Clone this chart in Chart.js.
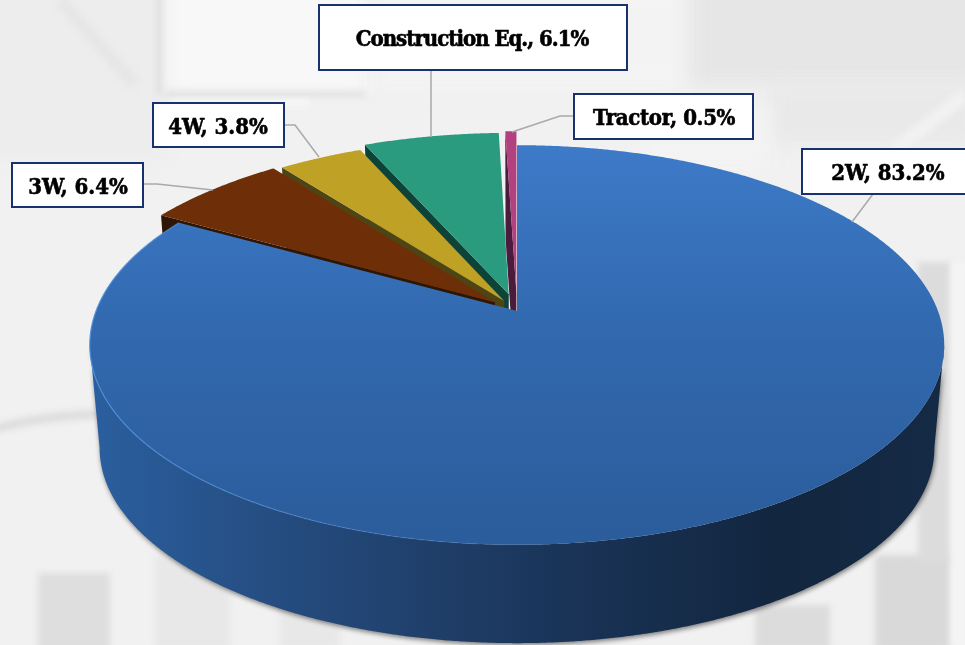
<!DOCTYPE html>
<html>
<head>
<meta charset="utf-8">
<script src="https://cdn.jsdelivr.net/npm/chart.js@4/dist/chart.umd.min.js"></script>
<style>
html,body{margin:0;padding:0;background:#f1f1f1;overflow:hidden}
#wrap{position:relative;width:965px;height:645px}
</style>
</head>
<body>
<div id="wrap"><canvas id="c" width="965" height="645"></canvas></div>
<script>
const categories = ['2W', '3W', '4W', 'Construction Eq.', 'Tractor'];
const shares = [83.2, 6.4, 3.8, 6.1, 0.5];

const explode = [0, 7, 6, 9, 10];
const topColors = ['#3d7ac8', '#6e2f08', '#bfa125', '#2b9b80', '#b2417f'];
const wallColors = ['#1c3a60', '#2f1503', '#4f4514', '#0e4438', '#4a1b3d'];

const labelFont = 'bold 22px "DejaVu Serif Condensed", "DejaVu Serif"';
const labelBoxes = [
  {x:802, y:149, w:165, h:45, cx:888, track:'0px',    line:[[873,194],[852,222]]},
  {x:12,  y:163, w:131, h:44, cx:78,  track:'0px',    line:[[143,184],[157,184],[213,190]]},
  {x:153, y:103, w:131, h:44, cx:218, track:'0px',    line:[[284,125],[295,125],[319,157]]},
  {x:319, y:5,   w:308, h:65, cx:472, track:'-1px',   line:[[431,70],[431,137]]},
  {x:574, y:94,  w:179, h:45, cx:664, track:'-0.35px',line:[[574,116],[560,116],[512,132]]}
];

const view = {x0:517, y0:311, a:194, b:421, p:0.17, shrink:0.977, midY:345, wallY:448};

function project(u, v){
  const w = 1 - view.p * v;
  return [view.x0 + view.b * u / w, view.y0 + view.a * v / w];
}
function lower(pt){
  return [view.x0 + view.shrink * (pt[0] - view.x0), view.wallY + view.shrink * (pt[1] - view.midY)];
}
function trace(ctx, pts){
  pts.forEach((p, i) => i ? ctx.lineTo(p[0], p[1]) : ctx.moveTo(p[0], p[1]));
}

const backdrop = {
  id: 'backdrop',
  beforeDraw(chart){
    const ctx = chart.ctx;
    ctx.save();
    ctx.fillStyle = '#f1f1f1';
    ctx.fillRect(0, 0, 965, 645);
    const block = (c, x, y, w, h) => { ctx.fillStyle = c; ctx.fillRect(x, y, w, h); };
    ctx.filter = 'blur(9px)';
    block('#ededed', -20, -20, 185, 180);
    block('#f8f8f8', 168, -20, 200, 110);
    block('#f3f3f3', 370, -20, 320, 110);
    block('#e6e6e6', 690, -20, 295, 105);
    block('#e9e9e9', 770, 85, 210, 60);
    block('#f3f3f3', 640, 110, 130, 60);
    ctx.filter = 'blur(3px)';
    block('#dfdfdf', 156, -5, 6, 100);
    block('#dedede', 165, 92, 200, 5);
    block('#fafafa', 170, 100, 140, 5);
    block('#dedede', 38, 573, 72, 80);
    block('#e8e8e8', 155, 555, 75, 95);
    block('#e8e8e8', 280, 600, 60, 50);
    block('#dcdcdc', 755, 605, 75, 45);
    block('#d9d9d9', 875, 555, 75, 95);
    block('#dcdcdc', 918, 262, 32, 300);
    block('#f4f4f4', 952, 262, 13, 385);
    ctx.strokeStyle = '#dbdbdb';
    ctx.lineWidth = 8;
    ctx.beginPath();
    ctx.moveTo(-5, 429);
    ctx.quadraticCurveTo(40, 416, 100, 414);
    ctx.stroke();
    ctx.strokeStyle = '#e6e6e6';
    ctx.lineWidth = 12;
    ctx.beginPath();
    ctx.moveTo(60, 0);
    ctx.lineTo(135, 85);
    ctx.stroke();
    ctx.strokeStyle = '#f1f1f1';
    ctx.lineWidth = 14;
    ctx.beginPath();
    ctx.moveTo(965, 95);
    ctx.lineTo(895, 150);
    ctx.stroke();
    ctx.restore();
  }
};

const perspectivePie = {
  id: 'perspectivePie',
  beforeDatasetDraw(chart, args){
    const ctx = chart.ctx;
    const arcs = chart.getDatasetMeta(args.index).data;
    for (let i = arcs.length - 1; i >= 0; i--) {
      const el = arcs[i];
      const frac = el.options.offset / 100;
      const mid = (el.startAngle + el.endAngle) / 2;
      const ou = Math.cos(mid) * frac, ov = Math.sin(mid) * frac;
      const rim = [];
      const n = Math.max(2, Math.ceil((el.endAngle - el.startAngle) / 0.005));
      for (let k = 0; k <= n; k++) {
        const t = el.startAngle + (el.endAngle - el.startAngle) * k / n;
        rim.push(project(Math.cos(t) + ou, Math.sin(t) + ov));
      }
      const apex = project(ou, ov);
      const rimLow = rim.map(lower);
      const apexLow = lower(apex);
      ctx.save();
      if (i === 0) {
        const wall = ctx.createLinearGradient(90, 0, 945, 0);
        wall.addColorStop(0, '#2b5f9f');
        wall.addColorStop(0.25, '#244a7c');
        wall.addColorStop(0.55, '#1a3458');
        wall.addColorStop(0.8, '#12263f');
        wall.addColorStop(1, '#152a45');
        let right = 0, left = 0;
        rim.forEach((p, k) => {
          if (p[0] > rim[right][0]) right = k;
          if (p[0] < rim[left][0]) left = k;
        });
        ctx.fillStyle = wall;
        ctx.shadowColor = 'rgba(0,0,0,0.5)';
        ctx.shadowBlur = 5;
        ctx.shadowOffsetX = 1;
        ctx.shadowOffsetY = 2;
        ctx.beginPath();
        trace(ctx, rim.slice(right, left + 1).concat(rimLow.slice(right, left + 1).reverse()));
        ctx.closePath();
        ctx.fill();
        ctx.shadowColor = 'transparent';
      } else {
        ctx.fillStyle = wallColors[i];
        ctx.beginPath();
        trace(ctx, [apex, rim[0], rimLow[0], apexLow]);
        ctx.closePath();
        ctx.fill();
      }
      let face = el.options.backgroundColor;
      if (i === 0) {
        face = ctx.createLinearGradient(0, 145, 0, 545);
        face.addColorStop(0, '#3d7ac8');
        face.addColorStop(0.5, '#3168ad');
        face.addColorStop(1, '#2b5c9b');
      }
      ctx.fillStyle = face;
      ctx.beginPath();
      trace(ctx, [apex].concat(rim));
      ctx.closePath();
      ctx.fill();
      if (i === 0) {
        const glow = ctx.createLinearGradient(90, 0, 560, 0);
        glow.addColorStop(0, 'rgba(80,145,220,0.9)');
        glow.addColorStop(1, 'rgba(80,145,220,0)');
        ctx.strokeStyle = glow;
        ctx.lineWidth = 1.2;
        ctx.beginPath();
        trace(ctx, rim.slice(Math.floor(rim.length * 0.5)));
        ctx.stroke();
      }
      ctx.restore();
    }
    return false;
  }
};

const calloutLabels = {
  id: 'calloutLabels',
  afterDatasetsDraw(chart){
    const ctx = chart.ctx;
    ctx.save();
    labelBoxes.forEach((box, i) => {
      ctx.strokeStyle = '#a9a9a9';
      ctx.lineWidth = 1.5;
      ctx.beginPath();
      trace(ctx, box.line);
      ctx.stroke();
      ctx.fillStyle = '#ffffff';
      ctx.fillRect(box.x, box.y, box.w, box.h);
      ctx.strokeStyle = '#17326f';
      ctx.lineWidth = 2;
      ctx.strokeRect(box.x, box.y, box.w, box.h);
      const text = categories[i] + ', ' + shares[i].toFixed(1) + '%';
      ctx.font = labelFont;
      ctx.letterSpacing = box.track;
      ctx.textAlign = 'center';
      ctx.textBaseline = 'middle';
      ctx.fillStyle = '#000000';
      ctx.strokeStyle = '#000000';
      ctx.lineWidth = 0.6;
      ctx.fillText(text, box.cx, box.y + box.h / 2 + 3);
      ctx.strokeText(text, box.cx, box.y + box.h / 2 + 3);
    });
    ctx.restore();
  }
};

new Chart(document.getElementById('c'), {
  type: 'pie',
  data: {
    labels: categories,
    datasets: [{
      data: shares,
      backgroundColor: topColors,
      offset: explode,
      borderWidth: 0
    }]
  },
  options: {
    responsive: false,
    animation: false,
    events: [],
    rotation: 0,
    plugins: {legend: {display: false}, tooltip: {enabled: false}}
  },
  plugins: [backdrop, perspectivePie, calloutLabels]
});
</script>
</body>
</html>
